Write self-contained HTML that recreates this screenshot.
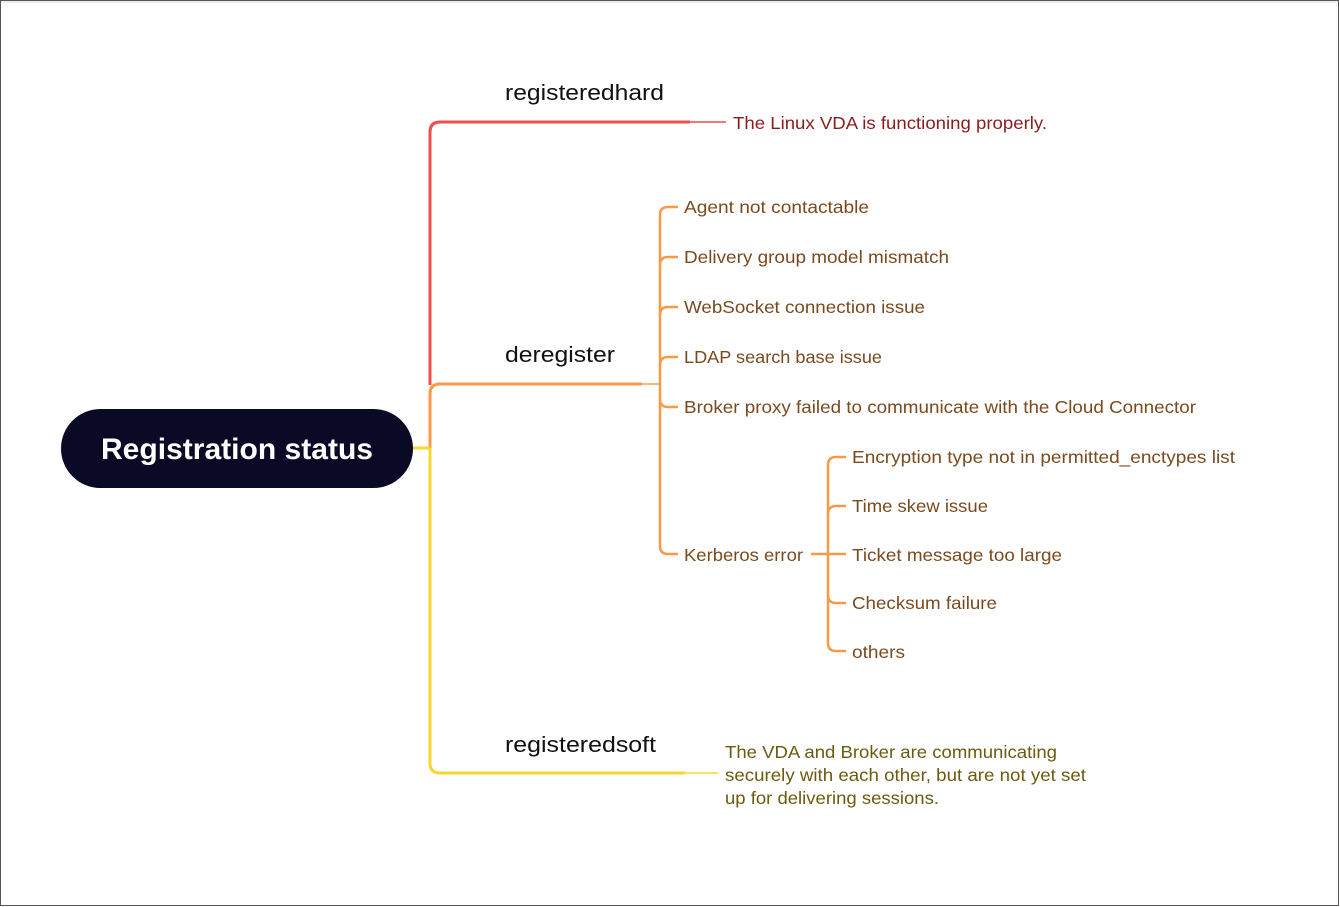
<!DOCTYPE html>
<html><head><meta charset="utf-8"><style>
html,body{margin:0;padding:0;background:#fff;}
svg{display:block;}
text{font-family:"Liberation Sans",sans-serif;}
</style></head><body>
<svg width="1340" height="907" viewBox="0 0 1340 907" xmlns="http://www.w3.org/2000/svg">
<rect x="0.5" y="0.5" width="1338" height="905" fill="#fff" stroke="#555" stroke-width="1"/>
<line x1="1" y1="2" x2="1338" y2="2" stroke="#ddd"/>
<!-- root -->
<rect x="61" y="409" width="352" height="79" rx="39.5" fill="#0a0a26"/>
<text x="101" y="459" fill="#fff" font-size="30" font-weight="bold" textLength="272" lengthAdjust="spacingAndGlyphs">Registration status</text>
<!-- red -->
<path d="M430 385 V132 Q430 122 440 122 H690" fill="none" stroke="#f24c4c" stroke-width="3"/>
<line x1="690" y1="122" x2="726" y2="122" stroke="#f24c4c" stroke-width="1.5"/>
<text x="505" y="100" font-size="22" fill="#111" textLength="159" lengthAdjust="spacingAndGlyphs">registeredhard</text>
<text x="733" y="129" font-size="17.5" fill="#8b1c1c" textLength="314" lengthAdjust="spacingAndGlyphs">The Linux VDA is functioning properly.</text>
<!-- orange -->
<path d="M430 448 V394 Q430 384 440 384 H642" fill="none" stroke="#fa9a48" stroke-width="3"/>
<line x1="642" y1="384" x2="660" y2="384" stroke="#fa9a48" stroke-width="1.5"/>
<text x="505" y="362" font-size="22" fill="#111" textLength="110" lengthAdjust="spacingAndGlyphs">deregister</text>
<g fill="none" stroke="#fa9a48" stroke-width="2.5">
<path d="M678 207 H668 Q660 207 660 215 V546 Q660 554 668 554 H678"/>
<path d="M660 265 Q660 257 668 257 H678"/>
<path d="M660 315 Q660 307 668 307 H678"/>
<path d="M660 365 Q660 357 668 357 H678"/>
<path d="M660 399 Q660 407 668 407 H678"/>
<line x1="811" y1="554" x2="846" y2="554"/>
<path d="M846 457 H836 Q828 457 828 465 V643 Q828 651 836 651 H846"/>
<path d="M828 514 Q828 506 836 506 H846"/>
<path d="M828 595 Q828 603 836 603 H846"/>
</g>
<g font-size="17.5" fill="#7a4a1f" lengthAdjust="spacingAndGlyphs">
<text x="684" y="213" textLength="185" lengthAdjust="spacingAndGlyphs">Agent not contactable</text>
<text x="684" y="263" textLength="265" lengthAdjust="spacingAndGlyphs">Delivery group model mismatch</text>
<text x="684" y="313" textLength="241" lengthAdjust="spacingAndGlyphs">WebSocket connection issue</text>
<text x="684" y="363" textLength="198" lengthAdjust="spacingAndGlyphs">LDAP search base issue</text>
<text x="684" y="413" textLength="512" lengthAdjust="spacingAndGlyphs">Broker proxy failed to communicate with the Cloud Connector</text>
<text x="684" y="561" textLength="119" lengthAdjust="spacingAndGlyphs">Kerberos error</text>
<text x="852" y="463" textLength="383" lengthAdjust="spacingAndGlyphs">Encryption type not in permitted_enctypes list</text>
<text x="852" y="512" textLength="136" lengthAdjust="spacingAndGlyphs">Time skew issue</text>
<text x="852" y="561" textLength="210" lengthAdjust="spacingAndGlyphs">Ticket message too large</text>
<text x="852" y="609" textLength="145" lengthAdjust="spacingAndGlyphs">Checksum failure</text>
<text x="852" y="658" textLength="53" lengthAdjust="spacingAndGlyphs">others</text>
</g>
<!-- yellow -->
<line x1="413" y1="448" x2="430" y2="448" stroke="#f5d730" stroke-width="3"/>
<path d="M430 448 V763 Q430 773 440 773 H685" fill="none" stroke="#f5d730" stroke-width="3"/>
<line x1="685" y1="773" x2="718" y2="773" stroke="#f5d730" stroke-width="1.5"/>
<text x="505" y="752" font-size="22" fill="#111" textLength="151" lengthAdjust="spacingAndGlyphs">registeredsoft</text>
<g font-size="17.5" fill="#6b5a10">
<text x="725" y="758" textLength="332" lengthAdjust="spacingAndGlyphs">The VDA and Broker are communicating</text>
<text x="725" y="781" textLength="361" lengthAdjust="spacingAndGlyphs">securely with each other, but are not yet set</text>
<text x="725" y="804" textLength="214" lengthAdjust="spacingAndGlyphs">up for delivering sessions.</text>
</g>
</svg>
</body></html>
